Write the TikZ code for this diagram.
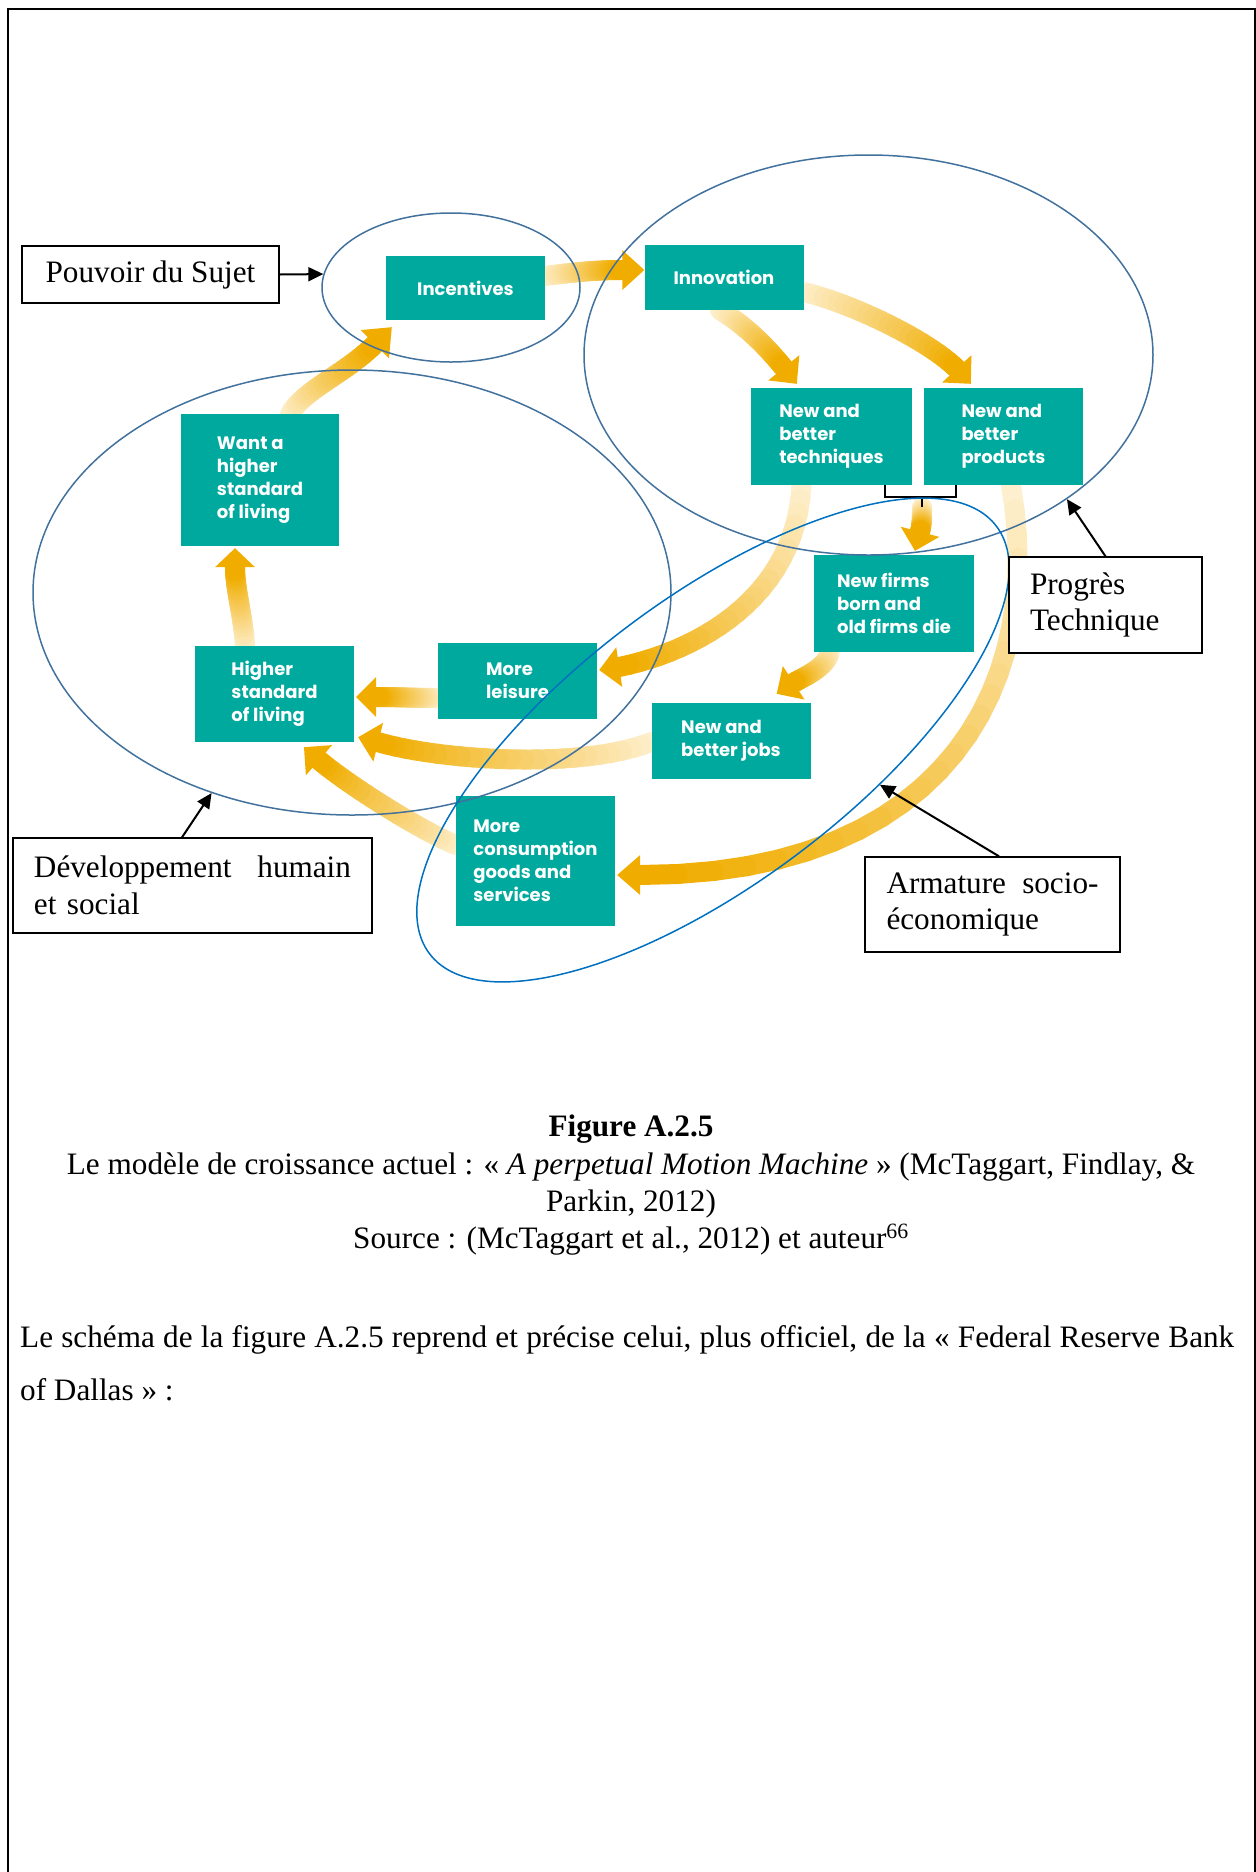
\documentclass[tikz,border=0pt]{standalone}
\usepackage{fontspec}
\setmainfont{Liberation Serif}
\newfontfamily\stagefont{Poppins}
\usepackage{xcolor}
\usetikzlibrary{arrows.meta,calc,shapes.geometric,backgrounds}
\definecolor{stageTeal}{HTML}{00A99D}
\definecolor{flowDark}{HTML}{F0AD00}
\definecolor{flowPale}{HTML}{FFF4DC}
\definecolor{ringBlue}{HTML}{41719C}
\definecolor{armBlue}{HTML}{0070C0}

\begin{document}
\begin{tikzpicture}[x=1pt,y=-1pt,
  stage/.style={rectangle,fill=stageTeal,text=white,align=left,inner sep=0pt,minimum width=159pt,font=\stagefont\fontsize{18}{23}\selectfont\bfseries},
  shaft/.style={line width=20pt,line cap=round},
  ring/.style={ellipse,draw=ringBlue,line width=1.5pt,inner sep=0pt},
  page/.style={font=\fontsize{31.2}{36.5}\selectfont},
  notebox/.style={page,draw,fill=white,line width=1.4pt,inner ysep=0pt},
  pointer/.style={line width=2pt,-{Triangle[length=15pt,width=14pt]}},
  bracket/.style={line width=1.6pt}]
  \useasboundingbox (0,0) rectangle (1256,1872);
  % the growth machine
  \node[stage,minimum height=64pt] (incent) at (465.5,288) {Incentives};
  \node[stage,minimum height=65pt] (innov) at (724,277.5) {Innovation};
  \node[stage,minimum height=97pt,minimum width=161pt] (techn) at (831.5,436.5) {New and\\better\\techniques};
  \node[stage,minimum height=97pt] (prod) at (1003.5,436.5) {New and\\better\\products};
  \node[stage,minimum height=97pt,minimum width=160pt] (firms) at (894,603.5) {New firms\\born and\\old firms die};
  \node[stage,minimum height=76pt] (jobs) at (731,741) {New and\\better jobs};
  \node[stage,minimum height=76pt] (leisure) at (517.5,681) {More\\leisure};
  \node[stage,minimum height=96pt] (higher) at (274.5,694) {Higher\\standard\\of living};
  \node[stage,minimum height=130pt] (consum) at (535.5,861) {More\\consumption\\goods and\\services};
  \node[stage,minimum height=132pt,minimum width=158pt] (want) at (260,480) {Want a\\higher\\standard\\of living};
  \coordinate (fork) at ($(techn.south east)!0.5!(prod.south west)+(4,22)$);
  \begin{scope}[on background layer]
  \foreach \sn/\sx/\sy/\ax/\ay/\bx/\by/\en/\hx/\hy/\tx/\ty in {
      want.north/30/0/15/-25/-30/30/incent.south west/-11/24/6/7,
      incent.east/0/-12/30/-4/-25/0/innov.west/-22/-7.5/0/-7.5,
      innov.south/-4/0/25/15/-19/-23/techn.north west/33/-20/46/-4,
      innov.east/0/14.5/50/12/-28/-28/prod.north west/33/-19/47/-4,
      fork/0/0/0/10/2/-8/firms.north/26/-23/21/-4,
      techn.south/-30/0/-6/113/78/-16/leisure.east/22/-14/2/-11,
      prod.south/7.5/0/34/195/310/0/consum.east/25/14/2/14,
      firms.south west/16/0/-4/16/10/-6/jobs.north east/-17/-20/-34/-9,
      jobs.west/0/1/-71/28/62/18/higher.south east/24/0/4/-5,
      leisure.west/0/17/-20/0/20/0/higher.east/22/3/2/3,
      consum.west/0/-16/-36/-15/31/26/higher.south/44.5/18/29.5/5,
      higher.north/-29.5/0/-2/-31/0/22/want.south/-25/21/-25/2}{
    \coordinate (st) at ($(\sn)+(\sx,\sy)$); \coordinate (hd) at ($(\en)+(\hx,\hy)$); \coordinate (tp) at ($(\en)+(\tx,\ty)$);
    \path (st) .. controls ($(st)+(\ax,\ay)$) and ($(hd)+(\bx,\by)$) .. (hd) \foreach \k in {0,...,24}{coordinate[pos=\k/24] (g\k)};
    \foreach \k [evaluate=\k as \j using int(\k+1),evaluate=\k as \c using 6+94*\k/23] in {0,...,23}
      \draw[shaft,draw=flowDark!\c!flowPale] (g\k) -- (g\j);
    \fill[flowDark] (tp) -- ($(hd)!20pt!90:(tp)$) -- ($(hd)!20pt!-90:(tp)$) -- cycle;
  }
  \end{scope}
  \draw[bracket] ($(techn.south east)+(-27,0)$) -- ++(0,12) -| ($(prod.south west)+(32,0)$);
  \draw[bracket] ($(fork)+(0,-10)$) -- (fork);
  % the four readings
  \node[ring,minimum width=258pt,minimum height=149pt] (incell) at (451,287.5) {};
  \node[ring,minimum width=569pt,minimum height=400pt] (progell) at (868.5,355) {};
  \node[ring,minimum width=638pt,minimum height=445pt] (devell) at (352,592.5) {};
  \node[ring,draw=armBlue,minimum width=710pt,minimum height=284pt,rotate=37] (armell) at (713,740) {};
  \node[notebox,minimum width=257pt,minimum height=57pt] (pouvoir) at (150.5,274.5) {Pouvoir du Sujet};
  \node[notebox,text width=151pt,inner xsep=21pt,minimum height=96pt,align=left] (progbox) at (1105.5,605) {Progrès\\Technique};
  \node[notebox,text width=212pt,inner xsep=21.5pt,minimum height=95pt,align=left] (armbox) at (992.5,904.5) {\makebox[212pt][s]{Armature\hfill socio-}\\économique};
  \node[notebox,text width=317pt,inner xsep=21pt,minimum height=95pt,align=left] (devbox) at (192.5,885.5) {\makebox[317pt][s]{Développement\hfill humain}\\et social};
  \draw[pointer] (pouvoir.east) -- (incell.174);
  \draw[pointer] (progbox.north) -- (progell.324);
  \draw[pointer] ([xshift=6.5pt]armbox.north) -- (armell.-52);
  \draw[pointer] ([xshift=-10.5pt]devbox.north) -- (devell.235);
  % caption and text
  \node[anchor=base,font=\fontsize{31.2}{36.5}\selectfont\bfseries] (figno) at (631,1136) {Figure A.2.5};
  \node[page,anchor=base] (cap1) at (631,1174) {Le modèle de croissance actuel : « \textit{A perpetual Motion Machine} » (McTaggart, Findlay, \&};
  \node[page,anchor=base] (cap2) at (631,1211) {Parkin, 2012)};
  \node[page,anchor=base] (cap3) at (631,1248) {Source : (McTaggart et al., 2012) et auteur\textsuperscript{66}};
  \node[page,anchor=base west,inner sep=0pt] (para1) at (20,1347) {\makebox[1214pt][s]{Le schéma de la figure A.2.5 reprend et précise celui, plus officiel, de la « Federal Reserve Bank}};
  \node[page,anchor=base west,inner sep=0pt] (para2) at (20,1400) {of Dallas » :};
  \draw[line width=2pt] (7.5,1872) -- (7.5,9) -- (1254.5,9) -- (1254.5,1872);
\end{tikzpicture}
\end{document}
